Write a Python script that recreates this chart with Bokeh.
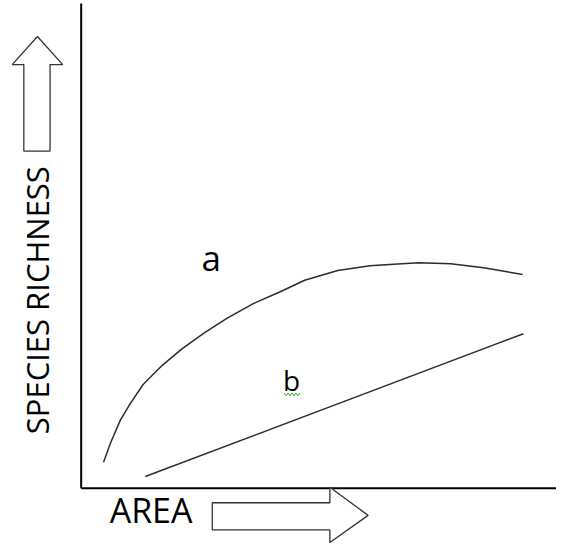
from bokeh.plotting import figure
from bokeh.models import Range1d
from bokeh.core.properties import value
from bokeh.embed import file_html
from bokeh.resources import INLINE

# ---- data (conceptual units: area 0..100, species richness 0..100) ----
curve_a_area = [4.79, 6.31, 8.40, 10.48, 13.27, 17.44, 21.6, 26.46, 31.31, 36.88,
                42.44, 47.9, 55.0, 61.9, 68.75, 72.3, 79.2, 86.25, 94.6]
curve_a_richness = [5.34, 9.34, 14.0, 17.34, 21.34, 25.34, 28.66, 32.0, 35.0, 38.0,
                    40.34, 42.8, 44.8, 45.8, 46.2, 46.4, 46.2, 45.4, 44.0]
line_b_area = [13.75, 94.8]
line_b_richness = [2.4, 31.8]

series_labels = ["a", "b"]
label_area = [27.9, 45.1]
label_richness = [47.5, 22.2]

x_title = "AREA"
y_title = "SPECIES RICHNESS"

# arrow outlines (decorative)
up_arrow_x = [-9.375, -3.96, -6.67, -6.67, -12.29, -12.29, -14.79]
up_arrow_y = [93.0, 87.2, 87.2, 69.4, 69.4, 87.2, 87.2]
right_arrow_x = [28.1, 53.3, 53.3, 61.5, 53.3, 53.3, 28.1]
right_arrow_y = [-3.0, -3.0, 0.2, -5.6, -11.2, -8.6, -8.6]

squiggle_x = [43.5 + 0.42 * i for i in range(9)]
squiggle_y = [19.6 if i % 2 == 0 else 19.0 for i in range(9)]

FONT = "Open Sans"

p = figure(width=556, height=544, output_backend="svg", toolbar_location=None,
           x_range=Range1d(-17.29, 101.875), y_range=Range1d(-11.6, 100.4),
           min_border=0, x_axis_location=None, y_axis_location=None,
           background_fill_color="white", border_fill_color="white")
p.outline_line_color = None
p.grid.visible = False

# axes lines
p.line([0, 0], [0, 99.8], line_color="black", line_width=2)
p.line([0, 102], [0, 0], line_color="black", line_width=2)

# curves
p.line(curve_a_area, curve_a_richness, line_color="#2b2b2b", line_width=1.5)
p.line(line_b_area, line_b_richness, line_color="#2b2b2b", line_width=1.5)

# labels a / b
p.text(x=[label_area[0]], y=[label_richness[0]], text=[series_labels[0]],
       text_font=value(FONT), text_font_size="35px", text_align="center",
       text_baseline="alphabetic", text_color="black")
p.text(x=[label_area[1]], y=[label_richness[1]], text=[series_labels[1]],
       text_font=value(FONT), text_font_size="28px", text_align="center",
       text_baseline="alphabetic", text_color="black")
p.line(squiggle_x, squiggle_y, line_color="#33aa33", line_width=1)

# axis titles
p.text(x=[6.1], y=[-4.4], text=[x_title], text_font=value(FONT),
       text_font_size="34px", text_align="left", text_baseline="alphabetic",
       text_color="black")
p.text(x=[-9.4], y=[38.7], text=[y_title], text_font=value(FONT),
       text_font_size="31px", text_align="center", text_baseline="alphabetic",
       angle=1.5707963, text_color="black")

# arrows
p.patch(up_arrow_x, up_arrow_y, fill_color="white", line_color="#333333", line_width=1.3)
p.patch(right_arrow_x, right_arrow_y, fill_color="white", line_color="#333333", line_width=1.3)

open("out.html", "w").write(file_html(p, INLINE))
